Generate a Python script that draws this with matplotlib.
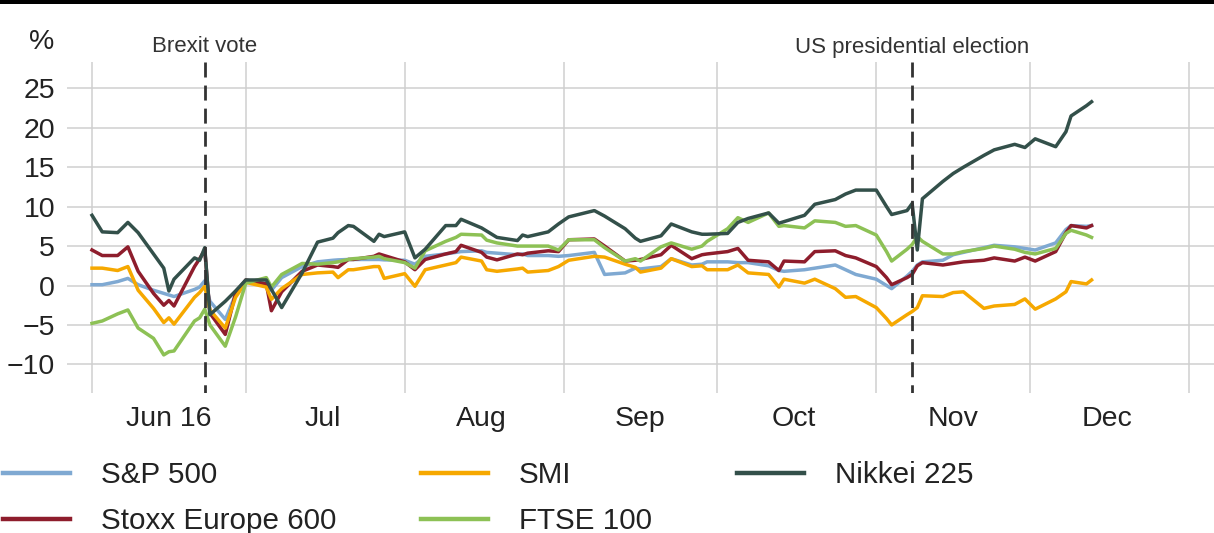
import matplotlib
matplotlib.use("Agg")
import matplotlib.pyplot as plt
import matplotlib.dates as mdates
from matplotlib.patches import Rectangle
import pandas as pd

plt.rcParams["font.family"] = ["Liberation Sans", "DejaVu Sans"]

# -------- DATA (% change since start of June 2016) --------
dates = [
    "2016-06-01", "2016-06-03", "2016-06-06", "2016-06-08", "2016-06-10", "2016-06-13",
    "2016-06-15", "2016-06-16", "2016-06-17", "2016-06-21", "2016-06-22", "2016-06-23",
    "2016-06-24", "2016-06-27", "2016-06-29",
    "2016-07-01", "2016-07-05", "2016-07-06", "2016-07-08", "2016-07-12", "2016-07-15",
    "2016-07-18", "2016-07-19", "2016-07-21", "2016-07-22", "2016-07-26", "2016-07-27",
    "2016-07-28",
    "2016-08-01", "2016-08-03", "2016-08-05", "2016-08-09", "2016-08-11", "2016-08-12",
    "2016-08-16", "2016-08-17", "2016-08-19", "2016-08-23", "2016-08-24", "2016-08-25",
    "2016-08-29", "2016-08-31",
    "2016-09-02", "2016-09-07", "2016-09-09", "2016-09-13", "2016-09-15", "2016-09-16",
    "2016-09-20", "2016-09-22", "2016-09-26", "2016-09-28", "2016-09-29",
    "2016-10-03", "2016-10-05", "2016-10-07", "2016-10-11", "2016-10-13", "2016-10-14",
    "2016-10-18", "2016-10-20", "2016-10-24", "2016-10-26", "2016-10-28",
    "2016-11-01", "2016-11-03", "2016-11-04", "2016-11-07", "2016-11-08", "2016-11-09",
    "2016-11-10", "2016-11-14", "2016-11-16", "2016-11-18", "2016-11-22", "2016-11-24",
    "2016-11-28", "2016-11-30",
    "2016-12-02", "2016-12-06", "2016-12-08", "2016-12-09", "2016-12-12", "2016-12-13",
]

sp500 = [
    0.1, 0.1, 0.5, 0.9, 0.1, -0.6, -1.0, -1.2, -1.4, -0.5, -0.2, 0.6, -2.0, -4.3, -1.2,
    0.5, 0.2, -0.6, 1.0, 2.4, 3.0, 3.2, 3.25, 3.3, 3.3, 3.3, 3.3, 3.25,
    3.2, 2.7, 3.7, 4.0, 4.2, 4.3, 4.4, 4.2, 4.1, 3.9, 4.0, 3.8, 3.8, 3.7,
    3.8, 4.2, 1.4, 1.6, 2.2, 2.1, 2.4, 3.4, 2.6, 2.7, 3.0,
    3.0, 2.9, 2.9, 2.5, 1.9, 1.8, 2.0, 2.2, 2.6, 2.0, 1.4,
    0.8, 0.0, -0.4, 1.2, 1.8, 2.6, 3.0, 3.2, 3.9, 4.2, 4.8, 5.1, 4.9, 4.7,
    4.5, 5.4, 7.1, 7.6, 7.5, 7.6,
]

stoxx600 = [
    4.5, 3.8, 3.8, 4.9, 1.8, -1.0, -2.5, -1.9, -2.6, 2.4, 3.4, 4.5, -3.5, -6.2, -1.0,
    0.7, 0.2, -3.2, -0.8, 1.8, 2.6, 2.4, 2.3, 3.3, 3.3, 3.7, 4.0, 3.8,
    3.0, 2.0, 3.3, 4.0, 4.3, 5.1, 4.2, 3.6, 3.25, 4.0, 3.9, 4.1, 4.4, 4.3,
    5.8, 5.9, 5.0, 3.1, 3.2, 3.3, 3.9, 5.1, 3.4, 3.9, 4.0,
    4.3, 4.7, 3.2, 3.0, 1.9, 3.1, 3.0, 4.3, 4.4, 3.8, 3.5,
    2.4, 1.0, 0.1, 1.0, 1.4, 2.5, 2.9, 2.6, 2.8, 3.0, 3.2, 3.5, 3.1, 3.6,
    3.1, 4.3, 6.7, 7.6, 7.3, 7.6,
]

smi = [
    2.2, 2.2, 1.9, 2.4, -0.6, -2.9, -4.7, -4.1, -4.9, -1.5, -0.9, -0.1, -3.1, -5.4, -1.5,
    0.4, -0.2, -1.75, -0.4, 1.4, 1.6, 1.7, 1.0, 2.0, 2.0, 2.4, 2.4, 0.9,
    1.5, -0.1, 2.0, 2.6, 2.9, 3.6, 3.1, 2.0, 1.8, 2.1, 2.2, 1.7, 1.9, 2.4,
    3.2, 3.7, 3.6, 2.7, 2.3, 1.7, 2.2, 3.4, 2.4, 2.5, 2.0,
    2.0, 2.6, 1.6, 1.4, -0.2, 0.8, 0.3, 0.8, -0.4, -1.5, -1.4,
    -2.8, -4.2, -5.0, -3.7, -3.3, -2.8, -1.3, -1.4, -0.9, -0.8, -2.9, -2.6, -2.4, -1.7,
    -3.0, -1.7, -0.8, 0.5, 0.2, 0.7,
]

ftse100 = [
    -4.8, -4.5, -3.6, -3.1, -5.4, -6.7, -8.8, -8.4, -8.3, -4.5, -4.1, -3.0, -5.0, -7.7, -4.0,
    0.3, 1.0, -0.2, 1.4, 2.8, 2.7, 2.9, 3.0, 3.3, 3.4, 3.6, 3.7, 3.4,
    2.9, 2.2, 4.4, 5.6, 6.1, 6.5, 6.4, 5.75, 5.4, 5.0, 5.0, 5.0, 5.0, 4.5,
    5.8, 5.8, 4.8, 3.1, 3.4, 3.1, 4.9, 5.4, 4.6, 5.0, 5.6,
    7.2, 8.6, 8.0, 9.2, 7.5, 7.6, 7.3, 8.2, 8.0, 7.5, 7.6,
    6.4, 4.3, 3.1, 4.6, 5.2, 6.2, 5.6, 4.0, 4.0, 4.3, 4.7, 5.0, 4.6, 4.2,
    4.0, 4.7, 6.6, 7.0, 6.4, 6.1,
]

nikkei225 = [
    8.9, 6.8, 6.7, 8.0, 6.7, 4.0, 2.2, -0.7, 0.8, 3.5, 3.2, 4.8, -3.7, -2.0, -0.7,
    0.7, 0.7, -0.5, -2.8, 1.6, 5.5, 6.0, 6.7, 7.6, 7.5, 5.6, 6.5, 6.2,
    6.8, 3.5, 4.6, 7.6, 7.6, 8.4, 7.3, 6.9, 6.1, 5.7, 6.4, 6.2, 6.8, 7.8,
    8.7, 9.5, 8.8, 7.2, 6.0, 5.6, 6.3, 7.8, 6.8, 6.5, 6.5,
    6.6, 8.0, 8.5, 9.2, 7.9, 8.1, 8.9, 10.3, 10.9, 11.6, 12.1,
    12.1, 10.0, 9.0, 9.5, 10.4, 4.5, 11.0, 13.2, 14.2, 15.0, 16.5, 17.2, 17.9, 17.5,
    18.6, 17.6, 19.5, 21.5, 22.8, 23.3,
]

events = ["2016-06-23", "2016-11-08"]
event_labels = ["Brexit vote", "US presidential election"]

y_ticks = [-10, -5, 0, 5, 10, 15, 20, 25]
month_starts = pd.date_range("2016-06-01", "2017-01-01", freq="MS")
month_mids = month_starts[:-1] + pd.Timedelta(days=15)
month_labels = ["Jun 16", "Jul", "Aug", "Sep", "Oct", "Nov", "Dec"]

# -------- PLOTTING --------
W, H = 1214, 533
fig = plt.figure(figsize=(W / 100, H / 100), dpi=100)
ax = fig.add_axes([67 / W, 1 - 393 / H, (W - 67) / W, (393 - 62) / H])

jun1 = mdates.date2num(pd.Timestamp("2016-06-01"))
ymin, ymax = (285.5 - 393) / 7.886, (285.5 - 62) / 7.886
ax.set_xlim(jun1 - 25 / 5.126, jun1 + (W - 92) / 5.126)
ax.set_ylim(ymin, ymax)

x = pd.to_datetime(dates)
ax.plot(x, sp500, color="#7fa9d2", lw=2.5, label="S&P 500")
ax.plot(x, stoxx600, color="#8e1d2c", lw=2.5, label="Stoxx Europe 600")
ax.plot(x, smi, color="#f6a800", lw=2.5, label="SMI")
ax.plot(x, ftse100, color="#8dc155", lw=2.5, label="FTSE 100")
ax.plot(x, nikkei225, color="#33504a", lw=2.5, label="Nikkei 225")

# dashed event markers, drawn top-down so the dash pattern starts at the top
for ev in events:
    d = pd.Timestamp(ev)
    ax.plot([d, d], [ymax, ymin], color="#333333", lw=2.0, dashes=(5.4, 2.9), zorder=5)

ax.set_xticks(month_starts)
ax.set_xticklabels([])
ax.set_xticks(month_mids, minor=True)
ax.set_xticklabels(month_labels, minor=True)
ax.set_yticks(y_ticks)
ax.set_yticklabels([str(v).replace("-", "\u2212") for v in y_ticks])
ax.tick_params(which="both", length=0, labelsize=20.5, colors="#222222")
ax.tick_params(axis="y", pad=8.5)
ax.tick_params(axis="x", which="minor", pad=9)
ax.grid(True, color="#cfcfcf", lw=1.1)
ax.set_axisbelow(True)
for s in ax.spines.values():
    s.set_visible(False)

# top rule, unit and event labels
fig.add_artist(Rectangle((0, 1 - 4 / H), 1, 4 / H, transform=fig.transFigure,
                         color="black", lw=0))
fig.text(42 / W, 1 - 42 / H, "%", fontsize=20.5, color="#222222", ha="center", va="center")
for ev, lab in zip(events, event_labels):
    xf = ax.transData.transform((mdates.date2num(pd.Timestamp(ev)), 0))[0] / W
    fig.text(xf, 1 - 47 / H, lab, fontsize=16, color="#333333", ha="center", va="center")

handles, labels = ax.get_legend_handles_labels()
leg = fig.legend(handles, labels, ncol=3, loc="upper left",
                 bbox_to_anchor=(3 / W, 1 - 461 / H), frameon=False,
                 fontsize=21.3, handlelength=2.26, handletextpad=1.05,
                 columnspacing=2.87, labelspacing=0.62, borderpad=0, borderaxespad=0)
for t in leg.get_texts():
    t.set_color("#222222")
for l in leg.get_lines():
    l.set_linewidth(3.2)

fig.savefig("out.png", dpi=100)
